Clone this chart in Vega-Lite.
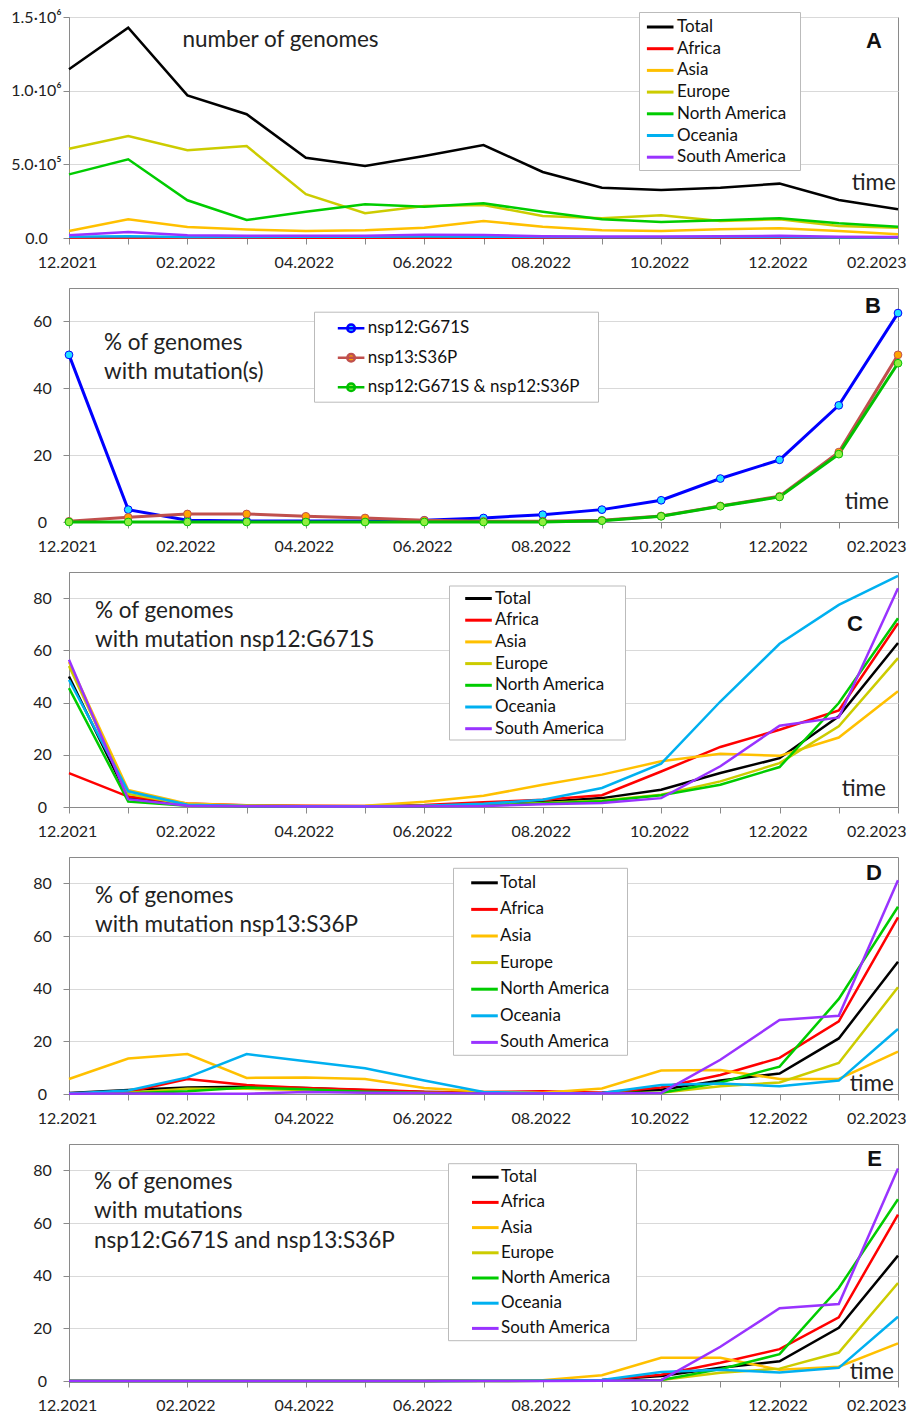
{
  "$schema": "https://vega.github.io/schema/vega-lite/v6.json",
  "background": "white",
  "padding": {"left": 10, "top": 8, "right": 8, "bottom": 2},
  "bounds": "flush",
  "spacing": 50,
  "config": {
    "font": "Lato",
    "view": {"stroke": "#8a8a8a", "strokeWidth": 1},
    "axisX": {"domainColor": "#8a8a8a", "tickColor": "#8a8a8a", "tickSize": 6, "labelPadding": 10, "labelFontSize": 16, "labelColor": "#222", "labelAngle": 0, "grid": false, "labelOverlap": false, "labelFont": "Lato"},
    "axisY": {"domainColor": "#8a8a8a", "tickColor": "#8a8a8a", "tickSize": 6, "labelFontSize": 16, "labelColor": "#222", "labelAlign": "center", "labelBaseline": "middle", "labelPadding": 21, "gridColor": "#d9d9d9", "labelFont": "Lato"},
    "legend": {"labelFont": "Lato", "labelFontSize": 17, "labelColor": "#111", "fillColor": "white", "strokeColor": "#bbbbbb", "padding": 4, "symbolType": "M-1.4,0L1.4,0", "symbolSize": 361, "symbolStrokeWidth": 3, "labelOffset": 6, "rowPadding": 2, "labelLimit": 400}
  },
  "resolve": {"scale": {"color": "independent", "stroke": "independent", "fill": "independent", "y": "independent", "x": "independent"}, "legend": {"color": "independent", "stroke": "independent", "fill": "independent"}},
  "datasets": {
    "a": [
      {"month": "12.2021", "Total": 1145000, "Africa": 3000, "Asia": 47000, "Europe": 606000, "North America": 432000, "Oceania": 8000, "South America": 18000},
      {"month": "01.2022", "Total": 1427000, "Africa": 4000, "Asia": 127000, "Europe": 692000, "North America": 534000, "Oceania": 12000, "South America": 41000},
      {"month": "02.2022", "Total": 968000, "Africa": 3000, "Asia": 75000, "Europe": 595000, "North America": 256000, "Oceania": 6000, "South America": 18000},
      {"month": "03.2022", "Total": 840000, "Africa": 2000, "Asia": 57000, "Europe": 624000, "North America": 122000, "Oceania": 7000, "South America": 15000},
      {"month": "04.2022", "Total": 545000, "Africa": 2000, "Asia": 47000, "Europe": 297000, "North America": 178000, "Oceania": 8000, "South America": 15000},
      {"month": "05.2022", "Total": 489000, "Africa": 2000, "Asia": 52000, "Europe": 168000, "North America": 229000, "Oceania": 9000, "South America": 16000},
      {"month": "06.2022", "Total": 556000, "Africa": 2000, "Asia": 70000, "Europe": 217000, "North America": 212000, "Oceania": 10000, "South America": 22000},
      {"month": "07.2022", "Total": 631000, "Africa": 2000, "Asia": 115000, "Europe": 224000, "North America": 235000, "Oceania": 9000, "South America": 20000},
      {"month": "08.2022", "Total": 448000, "Africa": 2000, "Asia": 77000, "Europe": 149000, "North America": 178000, "Oceania": 6000, "South America": 12000},
      {"month": "09.2022", "Total": 341000, "Africa": 1500, "Asia": 52000, "Europe": 134000, "North America": 127000, "Oceania": 5000, "South America": 10000},
      {"month": "10.2022", "Total": 326000, "Africa": 1500, "Asia": 47000, "Europe": 154000, "North America": 109000, "Oceania": 5000, "South America": 10000},
      {"month": "11.2022", "Total": 341000, "Africa": 1500, "Asia": 59000, "Europe": 115000, "North America": 120000, "Oceania": 6000, "South America": 12000},
      {"month": "12.2022", "Total": 369000, "Africa": 1500, "Asia": 66000, "Europe": 127000, "North America": 134000, "Oceania": 7000, "South America": 15000},
      {"month": "01.2023", "Total": 258000, "Africa": 1000, "Asia": 47000, "Europe": 81000, "North America": 100000, "Oceania": 4000, "South America": 8000},
      {"month": "02.2023", "Total": 195000, "Africa": 1000, "Asia": 25000, "Europe": 70000, "North America": 77000, "Oceania": 3000, "South America": 6000}
    ],
    "b": [
      {"month": "12.2021", "nsp12:G671S": 50.0, "nsp13:S36P": 0.2, "nsp12:G671S & nsp12:S36P": 0.0},
      {"month": "01.2022", "nsp12:G671S": 3.7, "nsp13:S36P": 1.4, "nsp12:G671S & nsp12:S36P": 0.0},
      {"month": "02.2022", "nsp12:G671S": 0.5, "nsp13:S36P": 2.4, "nsp12:G671S & nsp12:S36P": 0.0},
      {"month": "03.2022", "nsp12:G671S": 0.3, "nsp13:S36P": 2.4, "nsp12:G671S & nsp12:S36P": 0.0},
      {"month": "04.2022", "nsp12:G671S": 0.3, "nsp13:S36P": 1.7, "nsp12:G671S & nsp12:S36P": 0.0},
      {"month": "05.2022", "nsp12:G671S": 0.3, "nsp13:S36P": 1.2, "nsp12:G671S & nsp12:S36P": 0.0},
      {"month": "06.2022", "nsp12:G671S": 0.5, "nsp13:S36P": 0.5, "nsp12:G671S & nsp12:S36P": 0.0},
      {"month": "07.2022", "nsp12:G671S": 1.2, "nsp13:S36P": 0.2, "nsp12:G671S & nsp12:S36P": 0.0},
      {"month": "08.2022", "nsp12:G671S": 2.2, "nsp13:S36P": 0.2, "nsp12:G671S & nsp12:S36P": 0.0},
      {"month": "09.2022", "nsp12:G671S": 3.7, "nsp13:S36P": 0.5, "nsp12:G671S & nsp12:S36P": 0.4},
      {"month": "10.2022", "nsp12:G671S": 6.5, "nsp13:S36P": 1.8, "nsp12:G671S & nsp12:S36P": 1.7},
      {"month": "11.2022", "nsp12:G671S": 13.0, "nsp13:S36P": 4.8, "nsp12:G671S & nsp12:S36P": 4.7},
      {"month": "12.2022", "nsp12:G671S": 18.6, "nsp13:S36P": 7.7, "nsp12:G671S & nsp12:S36P": 7.5},
      {"month": "01.2023", "nsp12:G671S": 34.9, "nsp13:S36P": 20.9, "nsp12:G671S & nsp12:S36P": 20.3},
      {"month": "02.2023", "nsp12:G671S": 62.5, "nsp13:S36P": 50.0, "nsp12:G671S & nsp12:S36P": 47.5}
    ],
    "c": [
      {"month": "12.2021", "Total": 50.0, "Africa": 13.0, "Asia": 55.5, "Europe": 54.0, "North America": 45.5, "Oceania": 48.7, "South America": 56.4},
      {"month": "01.2022", "Total": 3.5, "Africa": 4.0, "Asia": 6.5, "Europe": 5.0, "North America": 2.1, "Oceania": 6.0, "South America": 3.0},
      {"month": "02.2022", "Total": 0.8, "Africa": 1.3, "Asia": 1.3, "Europe": 0.9, "North America": 0.5, "Oceania": 0.9, "South America": 0.5},
      {"month": "03.2022", "Total": 0.4, "Africa": 0.7, "Asia": 0.6, "Europe": 0.4, "North America": 0.3, "Oceania": 0.4, "South America": 0.3},
      {"month": "04.2022", "Total": 0.3, "Africa": 0.5, "Asia": 0.4, "Europe": 0.3, "North America": 0.2, "Oceania": 0.3, "South America": 0.2},
      {"month": "05.2022", "Total": 0.3, "Africa": 0.4, "Asia": 0.5, "Europe": 0.3, "North America": 0.2, "Oceania": 0.3, "South America": 0.2},
      {"month": "06.2022", "Total": 0.4, "Africa": 0.8, "Asia": 2.0, "Europe": 0.4, "North America": 0.3, "Oceania": 0.5, "South America": 0.3},
      {"month": "07.2022", "Total": 1.0, "Africa": 1.8, "Asia": 4.3, "Europe": 0.8, "North America": 0.6, "Oceania": 1.2, "South America": 0.4},
      {"month": "08.2022", "Total": 1.9, "Africa": 2.8, "Asia": 8.5, "Europe": 1.5, "North America": 1.3, "Oceania": 2.8, "South America": 1.1},
      {"month": "09.2022", "Total": 3.4, "Africa": 4.5, "Asia": 12.4, "Europe": 2.5, "North America": 2.2, "Oceania": 7.3, "South America": 1.5},
      {"month": "10.2022", "Total": 6.6, "Africa": 13.6, "Asia": 17.5, "Europe": 4.7, "North America": 4.5, "Oceania": 16.6, "South America": 3.4},
      {"month": "11.2022", "Total": 13.0, "Africa": 23.0, "Asia": 20.4, "Europe": 9.8, "North America": 8.5, "Oceania": 40.4, "South America": 15.6},
      {"month": "12.2022", "Total": 18.7, "Africa": 29.6, "Asia": 19.6, "Europe": 16.8, "North America": 15.3, "Oceania": 62.5, "South America": 31.1},
      {"month": "01.2023", "Total": 34.7, "Africa": 37.0, "Asia": 26.6, "Europe": 30.9, "North America": 39.8, "Oceania": 77.4, "South America": 34.3},
      {"month": "02.2023", "Total": 62.8, "Africa": 70.4, "Asia": 44.3, "Europe": 57.0, "North America": 72.3, "Oceania": 88.5, "South America": 83.8}
    ],
    "d": [
      {"month": "12.2021", "Total": 0.4, "Africa": 0.2, "Asia": 5.7, "Europe": 0.2, "North America": 0.2, "Oceania": 0.2, "South America": 0.1},
      {"month": "01.2022", "Total": 1.5, "Africa": 0.8, "Asia": 13.5, "Europe": 0.5, "North America": 0.3, "Oceania": 1.3, "South America": 0.2},
      {"month": "02.2022", "Total": 2.5, "Africa": 5.7, "Asia": 15.2, "Europe": 2.0, "North America": 1.0, "Oceania": 6.3, "South America": 0.1},
      {"month": "03.2022", "Total": 2.8, "Africa": 3.4, "Asia": 6.1, "Europe": 2.0, "North America": 2.5, "Oceania": 15.2, "South America": 0.1},
      {"month": "04.2022", "Total": 2.3, "Africa": 2.3, "Asia": 6.3, "Europe": 1.5, "North America": 1.8, "Oceania": 12.4, "South America": 0.8},
      {"month": "05.2022", "Total": 1.4, "Africa": 1.6, "Asia": 5.7, "Europe": 0.7, "North America": 0.9, "Oceania": 9.8, "South America": 0.5},
      {"month": "06.2022", "Total": 0.8, "Africa": 0.9, "Asia": 2.3, "Europe": 0.4, "North America": 0.4, "Oceania": 5.1, "South America": 0.4},
      {"month": "07.2022", "Total": 0.5, "Africa": 0.8, "Asia": 0.9, "Europe": 0.3, "North America": 0.3, "Oceania": 0.8, "South America": 0.2},
      {"month": "08.2022", "Total": 0.4, "Africa": 1.0, "Asia": 0.5, "Europe": 0.3, "North America": 0.3, "Oceania": 0.3, "South America": 0.2},
      {"month": "09.2022", "Total": 0.5, "Africa": 0.5, "Asia": 2.1, "Europe": 0.3, "North America": 0.3, "Oceania": 0.4, "South America": 0.2},
      {"month": "10.2022", "Total": 1.6, "Africa": 2.5, "Asia": 8.9, "Europe": 0.5, "North America": 0.5, "Oceania": 3.4, "South America": 0.4},
      {"month": "11.2022", "Total": 5.1, "Africa": 7.2, "Asia": 9.1, "Europe": 2.9, "North America": 4.4, "Oceania": 4.0, "South America": 13.0},
      {"month": "12.2022", "Total": 7.8, "Africa": 13.7, "Asia": 5.7, "Europe": 4.4, "North America": 10.4, "Oceania": 2.9, "South America": 28.1},
      {"month": "01.2023", "Total": 21.1, "Africa": 27.6, "Asia": 5.7, "Europe": 11.8, "North America": 36.1, "Oceania": 5.1, "South America": 29.7},
      {"month": "02.2023", "Total": 50.2, "Africa": 67.1, "Asia": 16.1, "Europe": 40.5, "North America": 71.1, "Oceania": 24.7, "South America": 81.2}
    ],
    "e": [
      {"month": "12.2021", "Total": 0.0, "Africa": 0.0, "Asia": 0.0, "Europe": 0.0, "North America": 0.0, "Oceania": 0.0, "South America": 0.0},
      {"month": "01.2022", "Total": 0.0, "Africa": 0.0, "Asia": 0.0, "Europe": 0.0, "North America": 0.0, "Oceania": 0.0, "South America": 0.0},
      {"month": "02.2022", "Total": 0.0, "Africa": 0.0, "Asia": 0.0, "Europe": 0.0, "North America": 0.0, "Oceania": 0.0, "South America": 0.0},
      {"month": "03.2022", "Total": 0.0, "Africa": 0.0, "Asia": 0.0, "Europe": 0.0, "North America": 0.0, "Oceania": 0.0, "South America": 0.0},
      {"month": "04.2022", "Total": 0.0, "Africa": 0.0, "Asia": 0.0, "Europe": 0.0, "North America": 0.0, "Oceania": 0.0, "South America": 0.0},
      {"month": "05.2022", "Total": 0.0, "Africa": 0.0, "Asia": 0.0, "Europe": 0.0, "North America": 0.0, "Oceania": 0.0, "South America": 0.0},
      {"month": "06.2022", "Total": 0.0, "Africa": 0.0, "Asia": 0.0, "Europe": 0.0, "North America": 0.0, "Oceania": 0.0, "South America": 0.0},
      {"month": "07.2022", "Total": 0.1, "Africa": 0.3, "Asia": 0.3, "Europe": 0.0, "North America": 0.0, "Oceania": 0.1, "South America": 0.0},
      {"month": "08.2022", "Total": 0.1, "Africa": 0.2, "Asia": 0.3, "Europe": 0.1, "North America": 0.1, "Oceania": 0.1, "South America": 0.0},
      {"month": "09.2022", "Total": 0.4, "Africa": 0.3, "Asia": 2.2, "Europe": 0.2, "North America": 0.2, "Oceania": 0.4, "South America": 0.1},
      {"month": "10.2022", "Total": 1.9, "Africa": 2.4, "Asia": 8.8, "Europe": 0.4, "North America": 0.4, "Oceania": 3.4, "South America": 0.3},
      {"month": "11.2022", "Total": 5.0, "Africa": 6.9, "Asia": 8.8, "Europe": 3.1, "North America": 4.5, "Oceania": 4.3, "South America": 13.0},
      {"month": "12.2022", "Total": 7.5, "Africa": 12.1, "Asia": 4.3, "Europe": 4.7, "North America": 10.2, "Oceania": 3.2, "South America": 27.6},
      {"month": "01.2023", "Total": 20.2, "Africa": 24.2, "Asia": 5.4, "Europe": 10.8, "North America": 35.3, "Oceania": 5.0, "South America": 29.2},
      {"month": "02.2023", "Total": 47.6, "Africa": 63.2, "Asia": 14.3, "Europe": 37.2, "North America": 69.0, "Oceania": 24.4, "South America": 80.7}
    ]
  },
  "vconcat": [
    {
      "width": 829, "height": 221,
      "layer": [
        {
          "data": {"name": "a"},
          "transform": [{"fold": ["Total", "Africa", "Asia", "Europe", "North America", "Oceania", "South America"], "as": ["region", "value"]}],
          "mark": {"type": "line", "strokeWidth": 2.5},
          "encoding": {
            "x": {"field": "month", "type": "ordinal", "scale": {"type": "point", "padding": 0, "domain": ["12.2021","01.2022","02.2022","03.2022","04.2022","05.2022","06.2022","07.2022","08.2022","09.2022","10.2022","11.2022","12.2022","01.2023","02.2023"]}, "axis": {"title": null, "labelExpr": "toNumber(slice(datum.value,0,2)) % 2 == 0 ? datum.value : ''", "labelAlign": {"condition": {"test": "datum.value == '02.2023'", "value": "right"}, "value": "center"}, "labelOffset": {"condition": {"test": "datum.value == '02.2023'", "value": 8}, "value": -2}}},
            "y": {"field": "value", "type": "quantitative", "scale": {"domain": [0, 1500000], "nice": false, "zero": true}, "axis": {"title": null, "values": [0, 500000, 1000000, 1500000], "labelPadding": 27, "labelExpr": "datum.value == 0 ? '0.0' : datum.value == 500000 ? '5.0·10⁵' : datum.value == 1000000 ? '1.0·10⁶' : '1.5·10⁶'"}},
            "color": {"field": "region", "type": "nominal", "scale": {"domain": ["Total", "Africa", "Asia", "Europe", "North America", "Oceania", "South America"], "range": ["#000000", "#ff0000", "#ffc000", "#cccc00", "#00cc00", "#00b0f0", "#9933ff"]}, "legend": {"title": null, "orient": "none", "legendX": 570, "legendY": -5, "padding": 4, "symbolOffset": 6.2, "labelOffset": 5.8, "rowPadding": 2.7, "labelExpr": "datum.label + '\u00a0\u00a0\u200b'"}},
            "strokeWidth": {"condition": {"test": "datum.region === 'Total'", "value": 3.5}, "value": 2.5}
          }
        },
        {"data": {"values": [{}]}, "mark": {"type": "text", "align": "left", "baseline": "middle", "fontSize": 22.5, "color": "#222", "dx": -5}, "encoding": {"x": {"datum": "02.2022", "type": "ordinal"}, "y": {"datum": 1344000, "type": "quantitative"}, "text": {"value": "number of genomes"}}},
        {"data": {"values": [{}]}, "mark": {"type": "text", "align": "right", "baseline": "middle", "fontSize": 22, "fontWeight": "bold", "font": "Liberation Sans", "color": "#111", "dx": -16}, "encoding": {"x": {"datum": "02.2023", "type": "ordinal"}, "y": {"datum": 1340000, "type": "quantitative"}, "text": {"value": "A"}}},
        {"data": {"values": [{}]}, "mark": {"type": "text", "align": "right", "baseline": "middle", "fontSize": 22.5, "color": "#222", "dx": -2}, "encoding": {"x": {"datum": "02.2023", "type": "ordinal"}, "y": {"datum": 375000, "type": "quantitative"}, "text": {"value": "time"}}}
      ]
    },
    {
      "width": 829, "height": 234,
      "layer": [
        {
          "data": {"name": "b"},
          "transform": [{"fold": ["nsp12:G671S", "nsp13:S36P", "nsp12:G671S & nsp12:S36P"], "as": ["series", "value"]}],
          "mark": {"type": "line", "strokeWidth": 3},
          "encoding": {
            "x": {"field": "month", "type": "ordinal", "scale": {"type": "point", "padding": 0, "domain": ["12.2021","01.2022","02.2022","03.2022","04.2022","05.2022","06.2022","07.2022","08.2022","09.2022","10.2022","11.2022","12.2022","01.2023","02.2023"]}, "axis": {"title": null, "labelExpr": "toNumber(slice(datum.value,0,2)) % 2 == 0 ? datum.value : ''", "labelAlign": {"condition": {"test": "datum.value == '02.2023'", "value": "right"}, "value": "center"}, "labelOffset": {"condition": {"test": "datum.value == '02.2023'", "value": 8}, "value": -2}}},
            "y": {"field": "value", "type": "quantitative", "scale": {"domain": [0, 70], "nice": false}, "axis": {"title": null, "values": [0, 20, 40, 60]}},
            "stroke": {"field": "series", "type": "nominal", "scale": {"domain": ["nsp12:G671S", "nsp13:S36P", "nsp12:G671S & nsp12:S36P"], "range": ["#0000ff", "#c0504d", "#00c000"]}, "legend": {"title": null, "orient": "none", "legendX": 245, "legendY": 23.7, "rowPadding": 9.5, "padding": 5.5, "symbolOffset": 20.6, "labelOffset": 5.6, "labelExpr": "datum.label + '\u00a0\u00a0\u00a0\u200b'", "symbolType": "M-1.4,0L1.4,0M0.4,0A0.4,0.4,0,1,1,-0.4,0A0.4,0.4,0,1,1,0.4,0Z", "symbolStrokeWidth": 2.5}}
          }
        },
        {
          "data": {"name": "b"},
          "transform": [{"fold": ["nsp12:G671S", "nsp13:S36P", "nsp12:G671S & nsp12:S36P"], "as": ["series", "value"]}],
          "mark": {"type": "point", "filled": true, "size": 60, "strokeWidth": 1, "opacity": 1},
          "encoding": {
            "x": {"field": "month", "type": "ordinal"},
            "y": {"field": "value", "type": "quantitative"},
            "fill": {"field": "series", "type": "nominal", "scale": {"domain": ["nsp12:G671S", "nsp13:S36P", "nsp12:G671S & nsp12:S36P"], "range": ["#22e0ff", "#ffa500", "#90ee40"]}, "legend": {"title": null, "orient": "none", "legendX": 245, "legendY": 23.7, "rowPadding": 9.5, "padding": 5.5, "symbolOffset": 20.6, "labelOffset": 5.6, "labelExpr": "datum.label + '\u00a0\u00a0\u00a0\u200b'", "symbolType": "M-1.4,0L1.4,0M0.4,0A0.4,0.4,0,1,1,-0.4,0A0.4,0.4,0,1,1,0.4,0Z", "symbolStrokeWidth": 2.5}},
            "stroke": {"field": "series", "type": "nominal"}
          }
        },
        {"data": {"values": [{}]}, "mark": {"type": "text", "align": "left", "baseline": "alphabetic", "fontSize": 22.5, "lineHeight": 29, "color": "#222", "dx": 35}, "encoding": {"x": {"datum": "12.2021", "type": "ordinal"}, "y": {"datum": 51.5, "type": "quantitative"}, "text": {"value": ["% of genomes", "with mutation(s)"]}}},
        {"data": {"values": [{}]}, "mark": {"type": "text", "align": "right", "baseline": "middle", "fontSize": 22, "fontWeight": "bold", "font": "Liberation Sans", "color": "#111", "dx": -17}, "encoding": {"x": {"datum": "02.2023", "type": "ordinal"}, "y": {"datum": 64.5, "type": "quantitative"}, "text": {"value": "B"}}},
        {"data": {"values": [{}]}, "mark": {"type": "text", "align": "right", "baseline": "middle", "fontSize": 22.5, "color": "#222", "dx": -9}, "encoding": {"x": {"datum": "02.2023", "type": "ordinal"}, "y": {"datum": 5.9, "type": "quantitative"}, "text": {"value": "time"}}}
      ]
    },
    {
      "width": 829, "height": 235,
      "layer": [
        {
          "data": {"name": "c"},
          "transform": [{"fold": ["Total", "Africa", "Asia", "Europe", "North America", "Oceania", "South America"], "as": ["region", "value"]}],
          "mark": {"type": "line", "strokeWidth": 2.5},
          "encoding": {
            "x": {"field": "month", "type": "ordinal", "scale": {"type": "point", "padding": 0, "domain": ["12.2021","01.2022","02.2022","03.2022","04.2022","05.2022","06.2022","07.2022","08.2022","09.2022","10.2022","11.2022","12.2022","01.2023","02.2023"]}, "axis": {"title": null, "labelExpr": "toNumber(slice(datum.value,0,2)) % 2 == 0 ? datum.value : ''", "labelAlign": {"condition": {"test": "datum.value == '02.2023'", "value": "right"}, "value": "center"}, "labelOffset": {"condition": {"test": "datum.value == '02.2023'", "value": 8}, "value": -2}}},
            "y": {"field": "value", "type": "quantitative", "scale": {"domain": [0, 90], "nice": false}, "axis": {"title": null, "values": [0, 20, 40, 60, 80]}},
            "color": {"field": "region", "type": "nominal", "scale": {"domain": ["Total", "Africa", "Asia", "Europe", "North America", "Oceania", "South America"], "range": ["#000000", "#ff0000", "#ffc000", "#cccc00", "#00cc00", "#00b0f0", "#9933ff"]}, "legend": {"title": null, "orient": "none", "legendX": 380, "legendY": 13.5, "padding": 2, "symbolOffset": 16.5, "labelOffset": 5.5, "rowPadding": 2.7, "labelExpr": "datum.label + '\u00a0\u00a0\u00a0\u00a0\u200b'"}},
            "strokeWidth": {"condition": {"test": "datum.region === 'Total'", "value": 3}, "value": 2.5}
          }
        },
        {"data": {"values": [{}]}, "mark": {"type": "text", "align": "left", "baseline": "alphabetic", "fontSize": 22.5, "lineHeight": 28.5, "color": "#222", "dx": 26}, "encoding": {"x": {"datum": "12.2021", "type": "ordinal"}, "y": {"datum": 72.3, "type": "quantitative"}, "text": {"value": ["% of genomes", "with mutation nsp12:G671S"]}}},
        {"data": {"values": [{}]}, "mark": {"type": "text", "align": "right", "baseline": "middle", "fontSize": 22, "fontWeight": "bold", "font": "Liberation Sans", "color": "#111", "dx": -35}, "encoding": {"x": {"datum": "02.2023", "type": "ordinal"}, "y": {"datum": 70, "type": "quantitative"}, "text": {"value": "C"}}},
        {"data": {"values": [{}]}, "mark": {"type": "text", "align": "right", "baseline": "middle", "fontSize": 22.5, "color": "#222", "dx": -12}, "encoding": {"x": {"datum": "02.2023", "type": "ordinal"}, "y": {"datum": 7.0, "type": "quantitative"}, "text": {"value": "time"}}}
      ]
    },
    {
      "width": 829, "height": 237,
      "layer": [
        {
          "data": {"name": "d"},
          "transform": [{"fold": ["Total", "Africa", "Asia", "Europe", "North America", "Oceania", "South America"], "as": ["region", "value"]}],
          "mark": {"type": "line", "strokeWidth": 2.5},
          "encoding": {
            "x": {"field": "month", "type": "ordinal", "scale": {"type": "point", "padding": 0, "domain": ["12.2021","01.2022","02.2022","03.2022","04.2022","05.2022","06.2022","07.2022","08.2022","09.2022","10.2022","11.2022","12.2022","01.2023","02.2023"]}, "axis": {"title": null, "labelExpr": "toNumber(slice(datum.value,0,2)) % 2 == 0 ? datum.value : ''", "labelAlign": {"condition": {"test": "datum.value == '02.2023'", "value": "right"}, "value": "center"}, "labelOffset": {"condition": {"test": "datum.value == '02.2023'", "value": 8}, "value": -2}}},
            "y": {"field": "value", "type": "quantitative", "scale": {"domain": [0, 90], "nice": false}, "axis": {"title": null, "values": [0, 20, 40, 60, 80]}},
            "color": {"field": "region", "type": "nominal", "scale": {"domain": ["Total", "Africa", "Asia", "Europe", "North America", "Oceania", "South America"], "range": ["#000000", "#ff0000", "#ffc000", "#cccc00", "#00cc00", "#00b0f0", "#9933ff"]}, "legend": {"title": null, "orient": "none", "legendX": 384, "legendY": 10.8, "padding": 4, "symbolOffset": 16.5, "labelOffset": 4.5, "rowPadding": 7.6, "labelExpr": "datum.label + '\u00a0\u00a0\u00a0\u200b'"}},
            "strokeWidth": {"condition": {"test": "datum.region === 'Total'", "value": 3}, "value": 2.5}
          }
        },
        {"data": {"values": [{}]}, "mark": {"type": "text", "align": "left", "baseline": "alphabetic", "fontSize": 22.5, "lineHeight": 29, "color": "#222", "dx": 26}, "encoding": {"x": {"datum": "12.2021", "type": "ordinal"}, "y": {"datum": 72.4, "type": "quantitative"}, "text": {"value": ["% of genomes", "with mutation nsp13:S36P"]}}},
        {"data": {"values": [{}]}, "mark": {"type": "text", "align": "right", "baseline": "middle", "fontSize": 22, "fontWeight": "bold", "font": "Liberation Sans", "color": "#111", "dx": -16}, "encoding": {"x": {"datum": "02.2023", "type": "ordinal"}, "y": {"datum": 84, "type": "quantitative"}, "text": {"value": "D"}}},
        {"data": {"values": [{}]}, "mark": {"type": "text", "align": "right", "baseline": "middle", "fontSize": 22.5, "color": "#222", "dx": -4}, "encoding": {"x": {"datum": "02.2023", "type": "ordinal"}, "y": {"datum": 3.8, "type": "quantitative"}, "text": {"value": "time"}}}
      ]
    },
    {
      "width": 829, "height": 237,
      "layer": [
        {
          "data": {"name": "e"},
          "transform": [{"fold": ["Total", "Africa", "Asia", "Europe", "North America", "Oceania", "South America"], "as": ["region", "value"]}],
          "mark": {"type": "line", "strokeWidth": 2.5},
          "encoding": {
            "x": {"field": "month", "type": "ordinal", "scale": {"type": "point", "padding": 0, "domain": ["12.2021","01.2022","02.2022","03.2022","04.2022","05.2022","06.2022","07.2022","08.2022","09.2022","10.2022","11.2022","12.2022","01.2023","02.2023"]}, "axis": {"title": null, "labelExpr": "toNumber(slice(datum.value,0,2)) % 2 == 0 ? datum.value : ''", "labelAlign": {"condition": {"test": "datum.value == '02.2023'", "value": "right"}, "value": "center"}, "labelOffset": {"condition": {"test": "datum.value == '02.2023'", "value": 8}, "value": -2}}},
            "y": {"field": "value", "type": "quantitative", "scale": {"domain": [0, 90], "nice": false}, "axis": {"title": null, "values": [0, 20, 40, 60, 80]}},
            "color": {"field": "region", "type": "nominal", "scale": {"domain": ["Total", "Africa", "Asia", "Europe", "North America", "Oceania", "South America"], "range": ["#000000", "#ff0000", "#ffc000", "#cccc00", "#00cc00", "#00b0f0", "#9933ff"]}, "legend": {"title": null, "orient": "none", "legendX": 379, "legendY": 19.2, "padding": 3, "symbolOffset": 23.3, "labelOffset": 4.7, "rowPadding": 6.2, "labelExpr": "datum.label + '\u00a0\u00a0\u00a0\u00a0\u00a0\u200b'"}},
            "strokeWidth": {"condition": {"test": "datum.region === 'Total'", "value": 3}, "value": 2.5}
          }
        },
        {"data": {"values": [{}]}, "mark": {"type": "text", "align": "left", "baseline": "alphabetic", "fontSize": 22.5, "lineHeight": 29.5, "color": "#222", "dx": 25}, "encoding": {"x": {"datum": "12.2021", "type": "ordinal"}, "y": {"datum": 73.0, "type": "quantitative"}, "text": {"value": ["% of genomes", "with mutations", "nsp12:G671S and nsp13:S36P"]}}},
        {"data": {"values": [{}]}, "mark": {"type": "text", "align": "right", "baseline": "middle", "fontSize": 22, "fontWeight": "bold", "font": "Liberation Sans", "color": "#111", "dx": -16}, "encoding": {"x": {"datum": "02.2023", "type": "ordinal"}, "y": {"datum": 84.2, "type": "quantitative"}, "text": {"value": "E"}}},
        {"data": {"values": [{}]}, "mark": {"type": "text", "align": "right", "baseline": "middle", "fontSize": 22.5, "color": "#222", "dx": -4}, "encoding": {"x": {"datum": "02.2023", "type": "ordinal"}, "y": {"datum": 3.4, "type": "quantitative"}, "text": {"value": "time"}}}
      ]
    }
  ]
}
